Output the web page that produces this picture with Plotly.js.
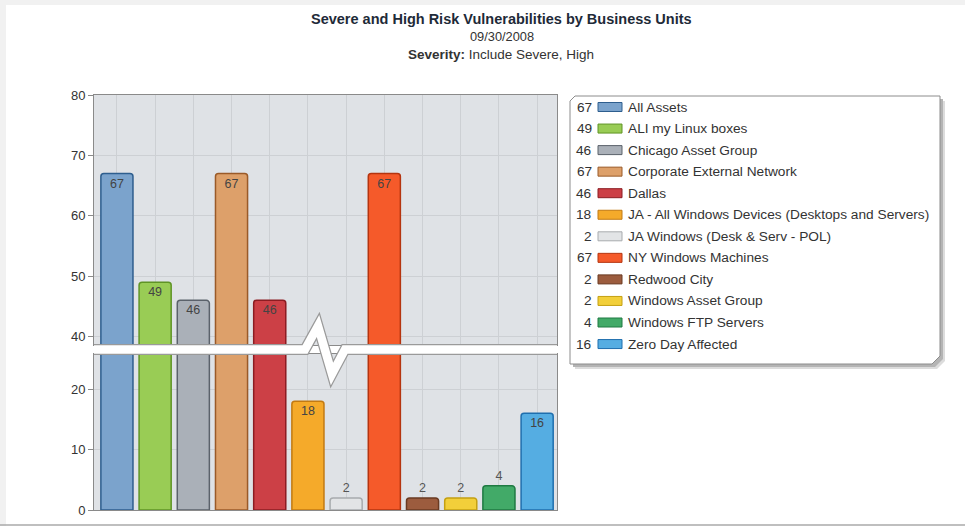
<!DOCTYPE html>
<html>
<head>
<meta charset="utf-8">
<script src="https://cdn.plot.ly/plotly-3.0.1.min.js"></script>
<style>
  html, body { margin: 0; padding: 0; background: #ffffff; }
  #chart { width: 965px; height: 526px; }
</style>
</head>
<body>
<div id="chart"></div>
<script>
// ---- data ----
const categories = [
  "All Assets",
  "ALI my Linux boxes",
  "Chicago Asset Group",
  "Corporate External Network",
  "Dallas",
  "JA - All Windows Devices (Desktops and Servers)",
  "JA Windows (Desk & Serv - POL)",
  "NY Windows Machines",
  "Redwood City",
  "Windows Asset Group",
  "Windows FTP Servers",
  "Zero Day Affected"
];
const values = [67, 49, 46, 67, 46, 18, 2, 67, 2, 2, 4, 16];
const yTicksLower = [0, 10, 20];
const yTicksUpper = [40, 50, 60, 70, 80];

// ---- styles ----
const fillColors = [
  "#7ba3cc", "#99cc55", "#aab0b8", "#dda06a", "#cc4046", "#f5aa2a",
  "#e2e4e6", "#f55a2a", "#9c5c3e", "#f2cf3a", "#42aa68", "#55ade2"
];
const lineColors = [
  "#2e5e8e", "#5f9425", "#5b626b", "#9a5a28", "#8c1c22", "#c27a12",
  "#a8abae", "#b5340f", "#6a3a22", "#c4a012", "#1f7a42", "#1f6fae"
];

const FONT = "'Liberation Sans', Arial, Helvetica, sans-serif";
const W = 965, H = 526;
const M = { l: 94, r: 408, t: 95, b: 16 };
const PW = W - M.l - M.r, PH = H - M.t - M.b;
const xp = px => (px - M.l) / PW;
const yp = py => (H - M.b - py) / PH;

// broken axis configuration
const LOWER_MAX = 25.8;   // top of lower panel
const UPPER_MIN = 38.6;   // bottom of upper panel
const lowerTop = 354, upperBottom = 345;

const lowerText = values.map(v => v <= LOWER_MAX ? String(v) : "");
const upperText = values.map(v => v > UPPER_MIN ? String(v) : "");
const lowerPos = values.map(v => v < 10 ? "outside" : "inside");

const barCommon = {
  type: "bar",
  x: categories,
  y: values,
  width: 0.84,
  marker: {
    color: fillColors,
    line: { color: lineColors, width: 1.5 },
    cornerradius: 3
  },
  insidetextanchor: "end",
  insidetextfont: { family: FONT, size: 12.5, color: "#444" },
  outsidetextfont: { family: FONT, size: 12.5, color: "#555" },
  textfont: { family: FONT, size: 12.5, color: "#444" },
  hoverinfo: "x+y",
  showlegend: false,
  cliponaxis: true
};

const traces = [
  Object.assign({}, barCommon, {
    xaxis: "x", yaxis: "y",
    text: lowerText, textposition: lowerPos
  }),
  Object.assign({}, barCommon, {
    xaxis: "x2", yaxis: "y2",
    text: upperText, textposition: "inside"
  })
];

const axisLine = "#8a8a8a";
const gridCol = "#cdd0d4";

const xCommon = {
  type: "category",
  showticklabels: false,
  showgrid: true,
  gridcolor: gridCol,
  gridwidth: 1,
  showline: true,
  linecolor: axisLine,
  linewidth: 1,
  mirror: true,
  ticks: "",
  range: [-0.6, categories.length - 0.48],
  fixedrange: true
};
const yCommon = {
  showgrid: true,
  gridcolor: gridCol,
  gridwidth: 1,
  zeroline: false,
  showline: true,
  linecolor: axisLine,
  linewidth: 1,
  mirror: true,
  ticks: "outside",
  ticklen: 5,
  tickcolor: axisLine,
  tickfont: { family: FONT, size: 13, color: "#333" },
  tickmode: "array",
  fixedrange: true
};

const shapes = [];
const annotations = [];

// page frame shadows
shapes.push({ type: "rect", xref: "paper", yref: "paper", layer: "below",
  x0: xp(0), x1: xp(6), y0: yp(526), y1: yp(4), fillcolor: "#f1f1f1", line: { width: 0 } });
shapes.push({ type: "rect", xref: "paper", yref: "paper", layer: "below",
  x0: xp(0), x1: xp(965), y0: yp(5), y1: yp(0), fillcolor: "#f1f1f1", line: { width: 0 } });
shapes.push({ type: "line", xref: "paper", yref: "paper",
  x0: xp(0), x1: xp(965), y0: yp(525), y1: yp(525), line: { color: "#aaaaaa", width: 1.5 } });

// axis break (zigzag band)
const zig = [[94, 349.5], [305, 349.5], [318, 326], [332, 374], [345, 349.5], [557, 349.5]];
const zigPath = zig.map((p, i) => (i ? "L" : "M") + xp(p[0]) + "," + yp(p[1])).join(" ");
shapes.push({ type: "path", xref: "paper", yref: "paper", path: zigPath,
  line: { color: "#9a9a9a", width: 11 } });
shapes.push({ type: "path", xref: "paper", yref: "paper", path: zigPath,
  line: { color: "#ffffff", width: 8.5 } });

// legend box
const LB = { x0: 570, x1: 940, y0: 96, y1: 364 };
function boxPath(dx, dy) {
  const p = [
    [LB.x0 + 5, LB.y0], [LB.x1, LB.y0], [LB.x1, LB.y1 - 8],
    [LB.x1 - 8, LB.y1], [LB.x0, LB.y1], [LB.x0, LB.y0 + 5]
  ];
  return p.map((q, i) => (i ? "L" : "M") + xp(q[0] + dx) + "," + yp(q[1] + dy)).join(" ") + " Z";
}
shapes.push({ type: "path", xref: "paper", yref: "paper", path: boxPath(5, 5),
  fillcolor: "#dcdcdc", line: { width: 0 } });
shapes.push({ type: "path", xref: "paper", yref: "paper", path: boxPath(3, 3),
  fillcolor: "#b4b4b4", line: { width: 0 } });
shapes.push({ type: "path", xref: "paper", yref: "paper", path: boxPath(0, 0),
  fillcolor: "#ffffff", line: { color: "#8c8c8c", width: 1 } });

const rowY0 = 107, rowStep = 21.55;
categories.forEach((name, i) => {
  const cy = rowY0 + i * rowStep;
  shapes.push({ type: "rect", xref: "paper", yref: "paper",
    x0: xp(598), x1: xp(622), y0: yp(cy + 4.5), y1: yp(cy - 4.5),
    fillcolor: fillColors[i], line: { color: lineColors[i], width: 1 } });
  annotations.push({ xref: "paper", yref: "paper", x: xp(594), y: yp(cy),
    xanchor: "right", yanchor: "middle", showarrow: false, text: String(values[i]),
    font: { family: FONT, size: 13.7, color: "#333" } });
  annotations.push({ xref: "paper", yref: "paper", x: xp(626), y: yp(cy),
    xanchor: "left", yanchor: "middle", showarrow: false, text: name,
    font: { family: FONT, size: 13.7, color: "#333" } });
});

// titles
annotations.push({ xref: "paper", yref: "paper", x: xp(501), y: yp(19),
  xanchor: "center", yanchor: "middle", showarrow: false,
  text: "<b>Severe and High Risk Vulnerabilities by Business Units</b>",
  font: { family: FONT, size: 14.5, color: "#1e2a38" } });
annotations.push({ xref: "paper", yref: "paper", x: xp(502), y: yp(37),
  xanchor: "center", yanchor: "middle", showarrow: false,
  text: "09/30/2008",
  font: { family: FONT, size: 12.8, color: "#333" } });
annotations.push({ xref: "paper", yref: "paper", x: xp(501), y: yp(55),
  xanchor: "center", yanchor: "middle", showarrow: false,
  text: "<b>Severity:</b> Include Severe, High",
  font: { family: FONT, size: 13.5, color: "#333" } });

const layout = {
  width: W, height: H,
  margin: { l: M.l, r: M.r, t: M.t, b: M.b, pad: 0 },
  paper_bgcolor: "#ffffff",
  plot_bgcolor: "#dfe2e6",
  barmode: "overlay",
  showlegend: false,
  font: { family: FONT, color: "#333" },
  xaxis: Object.assign({}, xCommon, { anchor: "y", domain: [0, 1] }),
  xaxis2: Object.assign({}, xCommon, { anchor: "y2", domain: [0, 1], matches: "x" }),
  yaxis: Object.assign({}, yCommon, {
    domain: [0, yp(lowerTop)], range: [0, LOWER_MAX], anchor: "x",
    tickvals: yTicksLower, ticktext: yTicksLower.map(String)
  }),
  yaxis2: Object.assign({}, yCommon, {
    domain: [yp(upperBottom), 1], range: [UPPER_MIN, 80], anchor: "x2",
    tickvals: yTicksUpper, ticktext: yTicksUpper.map(String)
  }),
  shapes: shapes,
  annotations: annotations
};

Plotly.newPlot("chart", traces, layout, { displayModeBar: false, staticPlot: false });
</script>
</body>
</html>
